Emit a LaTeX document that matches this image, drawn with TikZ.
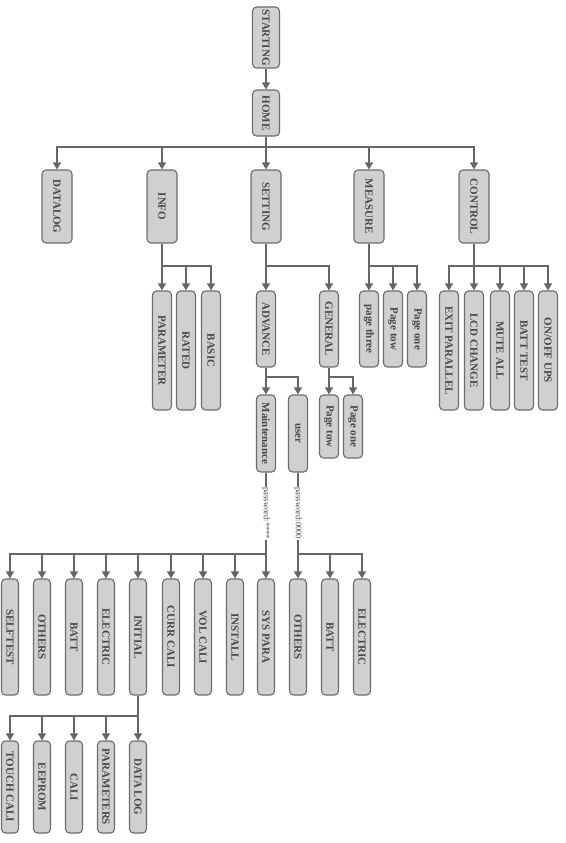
\documentclass[tikz,border=0pt]{standalone}
\usepackage{fontspec}
\setmainfont{Liberation Serif}
\usetikzlibrary{arrows.meta}
\definecolor{boxfill}{HTML}{D0D0D0}
\definecolor{boxline}{HTML}{6C6C6C}
\definecolor{wirecolor}{HTML}{666666}
\colorlet{boxtext}{black!72}
\newcommand{\vt}[1]{% text read from top to bottom
\rotatebox{-90}{#1}}
\tikzstyle{menubox} = [
    draw=boxline,
    fill=boxfill,
    line width=1.1pt,
    rounded corners=4pt,
    inner sep=0pt,
    text=boxtext,
    font=\bfseries\fontsize{11}{12}\selectfont
    ]
\tikzstyle{rootbox} = [menubox, minimum width=27pt]
\tikzstyle{mainbox} = [menubox, minimum width=30pt, minimum height=73pt]
\tikzstyle{longbox} = [menubox, minimum width=19pt, minimum height=119pt]
\tikzstyle{shortbox} = [menubox, minimum width=19pt, minimum height=76pt]
\tikzstyle{pagebox} = [menubox, minimum width=19pt, minimum height=63pt]
\tikzstyle{leafbox} = [menubox, minimum width=17pt, minimum height=116pt]
\tikzstyle{subbox} = [menubox, minimum width=17pt, minimum height=92pt]
\tikzstyle{wire} = [draw=wirecolor, line width=1.1pt]
\tikzstyle{arrow} = [wire, -{Triangle[length=7pt,width=8pt]}]
\tikzstyle{pwlabel} = [fill=white, inner sep=1pt, text=boxtext, font=\fontsize{8.5}{9}\selectfont]

\begin{document}
\begin{tikzpicture}[x=1pt, y=-1pt]
\useasboundingbox (0,0) rectangle (565,843);

\node[rootbox, minimum height=61pt] (starting) at (266,37.5) {\vt{STARTING}};
\node[rootbox, minimum height=46pt] (home) at (266,113) {\vt{HOME}};

\node[mainbox] (datalog) at (57,206.5) {\vt{DATALOG}};
\node[mainbox] (info) at (162,206.5) {\vt{INFO}};
\node[mainbox] (setting) at (266,206.5) {\vt{SETTING}};
\node[mainbox] (measure) at (369,206.5) {\vt{MEASURE}};
\node[mainbox] (control) at (474,206.5) {\vt{CONTROL}};

\node[longbox] (parameter) at (162,350.5) {\vt{PARAMETER}};
\node[longbox] (rated) at (186,350.5) {\vt{RATED}};
\node[longbox] (basic) at (211,350.5) {\vt{BASIC}};

\node[shortbox] (advance) at (266,329) {\vt{ADVANCE}};
\node[shortbox] (general) at (329,329) {\vt{GENERAL}};

\node[shortbox] (pagethree) at (369,329) {\vt{page three}};
\node[shortbox] (pagetow) at (393,329) {\vt{Page tow}};
\node[shortbox] (pageone) at (417,329) {\vt{Page one}};

\node[longbox] (exitparallel) at (449,350.5) {\vt{EXIT PARALLEL}};
\node[longbox] (lcdchange) at (474,350.5) {\vt{LCD CHANGE}};
\node[longbox] (muteall) at (500,350.5) {\vt{MUTE ALL}};
\node[longbox] (batttest) at (524,350.5) {\vt{BATT TEST}};
\node[longbox] (onoffups) at (548,350.5) {\vt{ON/OFF UPS}};

\node[shortbox, minimum height=77pt] (maintenance) at (266,433.5) {\vt{Maintenance}};
\node[shortbox, minimum height=77pt] (user) at (298,433.5) {\vt{user}};
\node[pagebox] (genpagetow) at (329,426.5) {\vt{Page tow}};
\node[pagebox] (genpageone) at (353,426.5) {\vt{Page one}};

\node[leafbox] (selftest) at (10,637) {\vt{SELFTEST}};
\node[leafbox] (mothers) at (42,637) {\vt{OTHERS}};
\node[leafbox] (mbatt) at (74,637) {\vt{BATT}};
\node[leafbox] (melectric) at (106,637) {\vt{ELECTRIC}};
\node[leafbox] (initial) at (138,637) {\vt{INITIAL}};
\node[leafbox] (currcali) at (171,637) {\vt{CURR CALI}};
\node[leafbox] (volcali) at (203,637) {\vt{VOL CALI}};
\node[leafbox] (install) at (235,637) {\vt{INSTALL}};
\node[leafbox] (syspara) at (266,637) {\vt{SYS PARA}};
\node[leafbox] (uothers) at (298,637) {\vt{OTHERS}};
\node[leafbox] (ubatt) at (330,637) {\vt{BATT}};
\node[leafbox] (uelectric) at (362,637) {\vt{ELECTRIC}};

\node[subbox] (touchcali) at (10,787) {\vt{TOUCH CALI}};
\node[subbox] (eeprom) at (42,787) {\vt{EEPROM}};
\node[subbox] (cali) at (74,787) {\vt{CALI}};
\node[subbox] (parameters) at (106,787) {\vt{PARAMETERS}};
\node[subbox] (datalogsub) at (138,787) {\vt{DATA LOG}};

\coordinate (homebus) at (266,147);
\coordinate (infobus) at (162,266);
\coordinate (settingbus) at (266,266);
\coordinate (measurebus) at (369,266);
\coordinate (controlbus) at (474,266);
\coordinate (advancebus) at (266,377);
\coordinate (generalbus) at (329,377);
\coordinate (maintbus) at (266,554);
\coordinate (userbus) at (298,554);
\coordinate (initialbus) at (138,716);

\draw[arrow] (starting.south) -- (home.north);

\draw[wire] (home.south) -- (homebus);
\draw[arrow] (homebus) -| (datalog.north);
\draw[arrow] (homebus) -| (info.north);
\draw[arrow] (homebus) -- (setting.north);
\draw[arrow] (homebus) -| (measure.north);
\draw[arrow] (homebus) -| (control.north);

\draw[wire] (info.south) -- (infobus);
\draw[arrow] (infobus) -- (parameter.north);
\draw[arrow] (infobus) -| (rated.north);
\draw[arrow] (infobus) -| (basic.north);

\draw[wire] (setting.south) -- (settingbus);
\draw[arrow] (settingbus) -- (advance.north);
\draw[arrow] (settingbus) -| (general.north);

\draw[wire] (measure.south) -- (measurebus);
\draw[arrow] (measurebus) -- (pagethree.north);
\draw[arrow] (measurebus) -| (pagetow.north);
\draw[arrow] (measurebus) -| (pageone.north);

\draw[wire] (control.south) -- (controlbus);
\draw[arrow] (controlbus) -| (exitparallel.north);
\draw[arrow] (controlbus) -- (lcdchange.north);
\draw[arrow] (controlbus) -| (muteall.north);
\draw[arrow] (controlbus) -| (batttest.north);
\draw[arrow] (controlbus) -| (onoffups.north);

\draw[wire] (advance.south) -- (advancebus);
\draw[arrow] (advancebus) -- (maintenance.north);
\draw[arrow] (advancebus) -| (user.north);

\draw[wire] (general.south) -- (generalbus);
\draw[arrow] (generalbus) -- (genpagetow.north);
\draw[arrow] (generalbus) -| (genpageone.north);

\draw[wire] (maintenance.south) -- node[pwlabel] {\vt{password:****}} (maintbus);
\draw[arrow] (maintbus) -| (selftest.north);
\draw[arrow] (maintbus) -| (mothers.north);
\draw[arrow] (maintbus) -| (mbatt.north);
\draw[arrow] (maintbus) -| (melectric.north);
\draw[arrow] (maintbus) -| (initial.north);
\draw[arrow] (maintbus) -| (currcali.north);
\draw[arrow] (maintbus) -| (volcali.north);
\draw[arrow] (maintbus) -| (install.north);
\draw[arrow] (maintbus) -- (syspara.north);

\draw[wire] (user.south) -- node[pwlabel] {\vt{password:0000}} (userbus);
\draw[arrow] (userbus) -- (uothers.north);
\draw[arrow] (userbus) -| (ubatt.north);
\draw[arrow] (userbus) -| (uelectric.north);

\draw[wire] (initial.south) -- (initialbus);
\draw[arrow] (initialbus) -| (touchcali.north);
\draw[arrow] (initialbus) -| (eeprom.north);
\draw[arrow] (initialbus) -| (cali.north);
\draw[arrow] (initialbus) -| (parameters.north);
\draw[arrow] (initialbus) -- (datalogsub.north);
\end{tikzpicture}
\end{document}
